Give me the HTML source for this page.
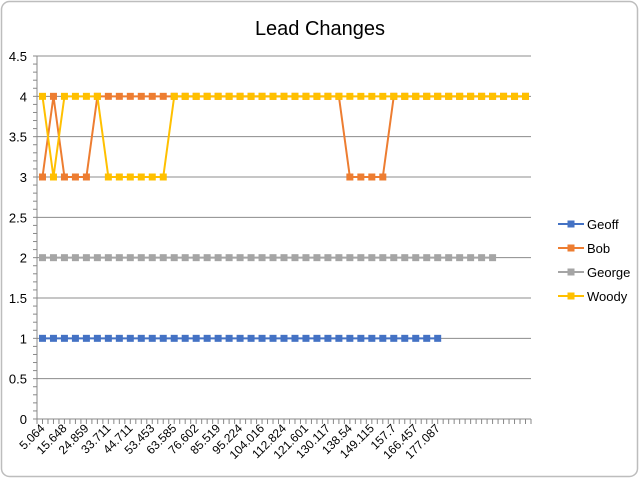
<!DOCTYPE html>
<html><head><meta charset="utf-8"><style>
body{margin:0;background:#fff;}
svg{display:block;font-family:"Liberation Sans",Calibri,sans-serif;}
</style></head><body>
<svg id="c" width="641" height="480">
<rect x="1.5" y="1.5" width="636" height="475" rx="8" fill="#fff" stroke="#bdbdbd" stroke-width="1.5"/>
<text x="320" y="35" text-anchor="middle" font-size="20" fill="#000">Lead Changes</text>
<g id="plot"></g>
</svg>
<script>
const categories=["5.064","","15.648","","24.859","","33.711","","44.711","","53.453","","63.585","","76.602","","85.519","","95.224","","104.016","","112.824","","121.601","","130.117","","138.54","","149.115","","157.7","","166.457","","177.087","","","","","","","",""];
const geoff=[1,1,1,1,1,1,1,1,1,1,1,1,1,1,1,1,1,1,1,1,1,1,1,1,1,1,1,1,1,1,1,1,1,1,1,1,1];
const bob=[3,4,3,3,3,4,4,4,4,4,4,4,4,4,4,4,4,4,4,4,4,4,4,4,4,4,4,4,3,3,3,3,4,4,4,4,4,4,4,4,4,4,4,4,4];
const george=[2,2,2,2,2,2,2,2,2,2,2,2,2,2,2,2,2,2,2,2,2,2,2,2,2,2,2,2,2,2,2,2,2,2,2,2,2,2,2,2,2,2];
const woody=[4,3,4,4,4,4,3,3,3,3,3,3,4,4,4,4,4,4,4,4,4,4,4,4,4,4,4,4,4,4,4,4,4,4,4,4,4,4,4,4,4,4,4,4,4];
const yTicks=[0,0.5,1,1.5,2,2.5,3,3.5,4,4.5];
const seriesNames=["Geoff","Bob","George","Woody"];
const seriesColors=["#4472c4","#ed7d31","#a5a5a5","#ffc000"];
const NS="http://www.w3.org/2000/svg";
const g=document.getElementById('plot');
const X0=37,X1=531,Y0=419,Y1=56,YMAX=4.5;
const step=(X1-X0)/categories.length;
const xs=i=>X0+step*(i+0.5);
const ys=v=>Y0-(v/YMAX)*(Y0-Y1);
function mk(t,a){const e=document.createElementNS(NS,t);for(const k in a)e.setAttribute(k,a[k]);g.appendChild(e);return e;}
yTicks.forEach(v=>{
 if(v>0){const l=mk('line',{x1:X0,x2:X1,y1:ys(v),y2:ys(v),stroke:'#8c8c8c','stroke-width':1});
 }
 const t=mk('text',{x:X0-10,y:ys(v)+5,'text-anchor':'end','font-size':13,fill:'#000'});t.textContent=v;
 
});
for(let v=0;v<=YMAX+1e-9;v+=0.1){const l=mk('line',{x1:X0-4,x2:X0,y1:ys(v),y2:ys(v),stroke:'#888'});
 }
let ax=mk('line',{x1:X0,x2:X0,y1:Y1,y2:Y0,stroke:'#888'});
ax=mk('line',{x1:X0,x2:X1,y1:Y0,y2:Y0,stroke:'#888'});
for(let i=0;i<=categories.length*2;i++){const x=X0+step/2*i;const l=mk('line',{x1:x,x2:x,y1:Y0,y2:Y0+5,stroke:'#888'});
 }
categories.forEach((c,i)=>{if(!c)return;const x=xs(i)+3,y=Y0+10;
 const t=mk('text',{x:x,y:y,'text-anchor':'end','font-size':12,fill:'#000',transform:`rotate(-45 ${x} ${y})`});t.textContent=c;
 });
[geoff,bob,george,woody].forEach((d,s)=>{
 const p=mk('polyline',{points:d.map((v,i)=>xs(i)+','+ys(v)).join(' '),fill:'none',stroke:seriesColors[s],'stroke-width':2});
 
 d.forEach((v,i)=>{const r=mk('rect',{x:xs(i)-3.5,y:ys(v)-3.5,width:7,height:7,fill:seriesColors[s]});
  });
});
seriesNames.forEach((n,s)=>{const y=224+24*s;
 const l=mk('line',{x1:558,x2:584,y1:y,y2:y,stroke:seriesColors[s],'stroke-width':2});
 const r=mk('rect',{x:567.5,y:y-3.5,width:7,height:7,fill:seriesColors[s]});
 const t=mk('text',{x:587,y:y+5,'font-size':13,fill:'#000'});t.textContent=n;
 });
</script>
</body></html>
